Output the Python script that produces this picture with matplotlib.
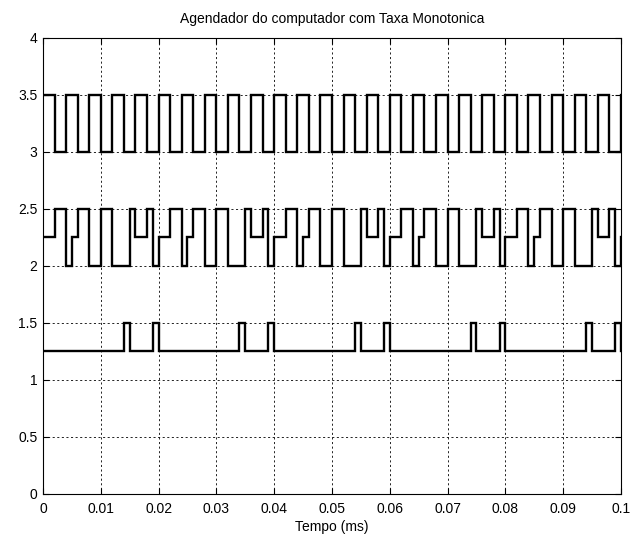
import matplotlib
matplotlib.use("Agg")
from matplotlib import pyplot as plt
import numpy as np

plt.rcParams['font.family'] = ['Liberation Sans', 'DejaVu Sans']

# time breakpoints (units of 0.001 ms), steps-post levels
top_t = [0, 2, 4, 6, 8, 10, 12, 14, 16, 18, 20, 22, 24, 26, 28, 30, 32, 34, 36, 38,
         40, 42, 44, 46, 48, 50, 52, 54, 56, 58, 60, 62, 64, 66, 68, 70, 72, 74, 76, 78,
         80, 82, 84, 86, 88, 90, 92, 94, 96, 98, 100]
top_v = [3.5, 3.0] * 25 + [3.5]

mid_t = [0, 2, 4, 5, 6, 8, 10, 12, 15, 16, 18, 19,
         20, 22, 24, 25, 26, 28, 30, 32, 35, 36, 38, 39,
         40, 42, 44, 45, 46, 48, 50, 52, 55, 56, 58, 59,
         60, 62, 64, 65, 66, 68, 70, 72, 75, 76, 78, 79,
         80, 82, 84, 85, 86, 88, 90, 92, 95, 96, 98, 99, 100]
mid_v = [2.25, 2.5, 2.0, 2.25, 2.5, 2.0, 2.5, 2.0, 2.5, 2.25, 2.5, 2.0,
         2.25, 2.5, 2.0, 2.25, 2.5, 2.0, 2.5, 2.0, 2.5, 2.25, 2.5, 2.0,
         2.25, 2.5, 2.0, 2.25, 2.5, 2.0, 2.5, 2.0, 2.5, 2.25, 2.5, 2.0,
         2.25, 2.5, 2.0, 2.25, 2.5, 2.0, 2.5, 2.0, 2.5, 2.25, 2.5, 2.0,
         2.25, 2.5, 2.0, 2.25, 2.5, 2.0, 2.5, 2.0, 2.5, 2.25, 2.5, 2.0, 2.25]

low_t = [0, 14, 15, 19, 20, 34, 35, 39, 40, 54, 55, 59, 60, 74, 75, 79, 80, 94, 95, 99, 100]
low_v = [1.25, 1.5, 1.25, 1.5, 1.25, 1.5, 1.25, 1.5, 1.25, 1.5, 1.25, 1.5, 1.25,
         1.5, 1.25, 1.5, 1.25, 1.5, 1.25, 1.5, 1.25]

x_ticks = [0, 0.01, 0.02, 0.03, 0.04, 0.05, 0.06, 0.07, 0.08, 0.09, 0.1]
x_labels = ['0', '0.01', '0.02', '0.03', '0.04', '0.05', '0.06', '0.07', '0.08', '0.09', '0.1']
y_ticks = [0, 0.5, 1, 1.5, 2, 2.5, 3, 3.5, 4]
y_labels = ['0', '0.5', '1', '1.5', '2', '2.5', '3', '3.5', '4']

fig = plt.figure(figsize=(6.31, 5.42), dpi=100)
ax = fig.add_axes([0.0681, 0.0886, 0.916, 0.8413])

for t, v in ((top_t, top_v), (mid_t, mid_v), (low_t, low_v)):
    ax.plot(np.array(t) / 1000.0, v, drawstyle='steps-post', color='black',
            linewidth=1.7, solid_joinstyle='miter')

ax.set_xlim(0, 0.1)
ax.set_ylim(0, 4)
ax.set_xticks(x_ticks)
ax.set_xticklabels(x_labels)
ax.set_yticks(y_ticks)
ax.set_yticklabels(y_labels)
ax.grid(True, color='black', linestyle=(0, (2.5, 3)), linewidth=0.6)
ax.tick_params(direction='in', top=True, right=True, length=4, width=0.8,
               labelsize=10)
ax.tick_params(axis='x', pad=6)
ax.tick_params(axis='y', pad=4)
for s in ax.spines.values():
    s.set_linewidth(0.8)

ax.set_title('Agendador do computador com Taxa Monotonica', fontsize=10, pad=11)
ax.set_xlabel('Tempo (ms)', fontsize=10, labelpad=3)

fig.savefig('out.png', dpi=100)
